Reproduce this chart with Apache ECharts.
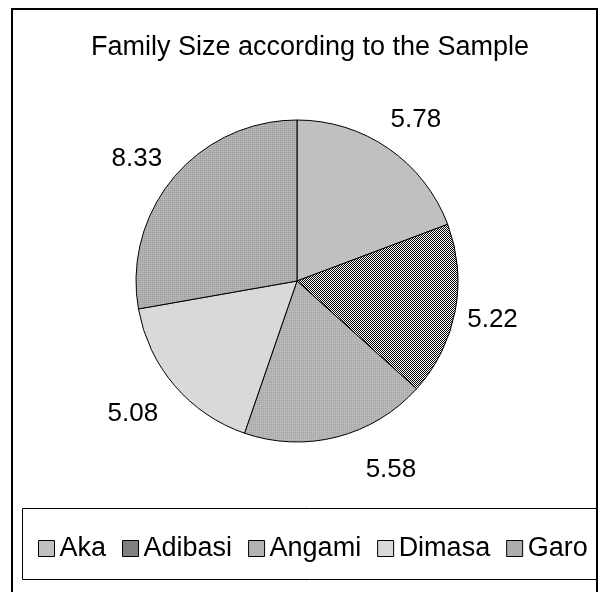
<!DOCTYPE html>
<html>
<head>
<meta charset="utf-8">
<script src="https://cdn.jsdelivr.net/npm/echarts@6/dist/echarts.min.js"></script>
<style>
  html, body { margin: 0; padding: 0; background: #fff; }
  #chart { width: 603px; height: 592px; }
</style>
</head>
<body>
<div id="chart"></div>
<script>
// data
const groups = ["Aka", "Adibasi", "Angami", "Dimasa", "Garo"];
const familySize = [5.78, 5.22, 5.58, 5.08, 8.33];

// fill patterns like the old office chart
function makePattern(size, draw) {
  const c = document.createElement("canvas");
  c.width = size;
  c.height = size;
  const ctx = c.getContext("2d");
  draw(ctx);
  return { image: c, repeat: "repeat" };
}
const checker = makePattern(2, (ctx) => {
  ctx.fillStyle = "#fff";
  ctx.fillRect(0, 0, 2, 2);
  ctx.fillStyle = "#000";
  ctx.fillRect(0, 0, 1, 1);
  ctx.fillRect(1, 1, 1, 1);
});
const dotsDark = makePattern(2, (ctx) => {
  ctx.fillStyle = "#b4b4b4";
  ctx.fillRect(0, 0, 2, 2);
  ctx.fillStyle = "#9a9a9a";
  ctx.fillRect(0, 0, 1, 1);
});
const dotsMid = makePattern(2, (ctx) => {
  ctx.fillStyle = "#b8b8b8";
  ctx.fillRect(0, 0, 2, 2);
  ctx.fillStyle = "#a4a4a4";
  ctx.fillRect(1, 0, 1, 1);
});
const colors = ["#c0c0c0", checker, dotsMid, "#d9d9d9", dotsDark];

const cx = 297, cy = 281, radius = 161, labelR = 200;
// small hand nudges so the value labels sit where the original put them
const labelNudge = [[5, 3], [-1, 2], [44, -5], [-12, 3], [-7, 6]];
const total = familySize.reduce((a, b) => a + b, 0);
const font = "Liberation Sans";

const chart = echarts.init(document.getElementById("chart"));
chart.setOption({
  animation: false,
  title: {
    text: "Family Size according to the Sample",
    left: 305,
    top: 29,
    textAlign: "center",
    textStyle: { fontFamily: font, fontSize: 27, fontWeight: "normal", color: "#000" },
  },
  legend: {
    data: groups,
    left: 33,
    top: 530,
    icon: "rect",
    itemWidth: 16,
    itemHeight: 16,
    itemGap: 16,
    itemStyle: { borderColor: "#000", borderWidth: 1 },
    textStyle: { fontFamily: font, fontSize: 27, color: "#000" },
  },
  graphic: [
    {
      type: "rect",
      shape: { x: 12, y: 9, width: 585, height: 620 },
      style: { fill: "none", stroke: "#000", lineWidth: 2 },
      silent: true,
    },
    {
      type: "rect",
      shape: { x: 22.5, y: 508.5, width: 574, height: 71 },
      style: { fill: "none", stroke: "#000", lineWidth: 1 },
      silent: true,
    },
  ],
  series: [
    {
      type: "pie",
      center: [cx, cy],
      radius: radius,
      startAngle: 90,
      clockwise: true,
      color: colors,
      itemStyle: { borderColor: "#000", borderWidth: 1 },
      label: {
        show: true,
        position: "outside",
        formatter: (p) => p.value.toFixed(2),
        fontFamily: font,
        fontSize: 26,
        color: "#000",
      },
      labelLine: { show: false },
      // put each label centre on a ring outside the pie, at the slice's mid angle
      labelLayout: (p) => {
        let before = 0;
        for (let i = 0; i < p.dataIndex; i++) before += familySize[i];
        const mid = ((before + familySize[p.dataIndex] / 2) / total) * Math.PI * 2;
        const n = labelNudge[p.dataIndex];
        return {
          x: cx + labelR * Math.sin(mid) + n[0],
          y: cy - labelR * Math.cos(mid) + n[1],
          align: "center",
          verticalAlign: "middle",
        };
      },
      emphasis: { disabled: true },
      data: groups.map((name, i) => ({ name, value: familySize[i] })),
    },
  ],
});
</script>
</body>
</html>
